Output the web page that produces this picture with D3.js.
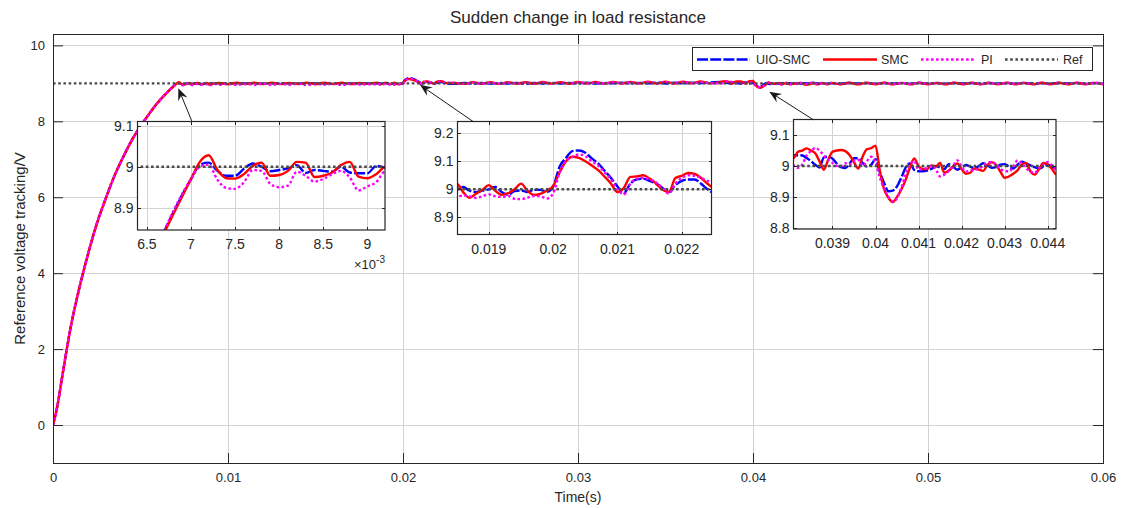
<!DOCTYPE html>
<html>
<head>
<meta charset="utf-8">
<script src="https://cdn.jsdelivr.net/npm/d3@7"></script>
<style>
  body { margin: 0; background: #fff; }
  text { font-family: "Liberation Sans", Arial, Helvetica, sans-serif; fill: #262626; }
</style>
</head>
<body>
<svg id="chart" width="1122" height="508"></svg>
<script>
// ---------------- data (time in ms, voltage in V) ----------------
const seriesNames = ["UIO-SMC", "SMC", "PI", "Ref"];
const xTicks = [0, 0.01, 0.02, 0.03, 0.04, 0.05, 0.06];
const xTickLabels = ["0", "0.01", "0.02", "0.03", "0.04", "0.05", "0.06"];
const yTicks = [0, 2, 4, 6, 8, 10];
const yTickLabels = ["0", "2", "4", "6", "8", "10"];

// start-up ramp shared by the three controllers
const rampT = [0, 0.25, 0.5, 0.75, 1, 1.5, 2, 2.5, 3, 3.5, 4, 4.5, 5, 5.5, 6, 6.5];
const rampV = [0, 0.5, 1.2, 1.9, 2.55, 3.6, 4.5, 5.3, 5.95, 6.55, 7.05, 7.5, 7.87, 8.2, 8.5, 8.75];

// window 1: end of start-up, 7.0 .. 9.2 ms every 0.1 ms
const uioZoom1 = [8.970, 9.005, 9.010, 8.990, 8.978, 8.978, 8.995, 9.008, 9.000, 8.989, 8.992, 8.996, 9.004, 8.985, 8.992, 8.990, 8.988, 9.000, 8.986, 8.984, 8.984, 9.002, 8.998];
const smcZoom1 = [8.970, 9.012, 9.028, 8.992, 8.972, 8.971, 8.982, 9.002, 9.010, 8.978, 8.980, 8.990, 9.012, 9.010, 8.975, 8.978, 8.986, 9.004, 9.012, 8.976, 8.972, 8.982, 9.000];
const piZoom1  = [8.970, 9.000, 9.005, 8.968, 8.948, 8.946, 8.962, 8.992, 8.990, 8.958, 8.950, 8.954, 8.988, 8.978, 8.964, 8.970, 8.982, 8.990, 8.974, 8.942, 8.952, 8.962, 8.988];

// steady state 9.5 .. 18.0 ms every 0.5 ms
const uioGapA = [9.004, 8.992, 9.006, 8.995, 9.003, 8.994, 9.007, 8.996, 9.002, 8.993, 9.005, 8.997, 9.004, 8.992, 9.006, 8.995, 9.003, 8.996];
const smcGapA = [9.010, 8.978, 9.015, 8.982, 9.014, 8.980, 9.016, 8.979, 9.013, 8.984, 9.017, 8.978, 9.014, 8.982, 9.018, 8.980, 9.012, 8.985];
const piGapA  = [8.962, 8.990, 8.958, 8.985, 8.965, 8.992, 8.960, 8.986, 8.963, 8.990, 8.958, 8.984, 8.966, 8.990, 8.960, 8.985, 8.968, 8.975];

// window 2: load step at 20 ms, 18.5 .. 22.5 ms every 0.1 ms
const uioZoom2 = [9.000, 9.008, 8.995, 8.990, 8.995, 9.000, 9.008, 8.990, 8.980, 8.994,
                  8.996, 8.990, 8.998, 8.998, 8.990, 9.010, 9.080, 9.112, 9.136, 9.138,
                  9.130, 9.110, 9.092, 9.066, 9.040, 9.010, 8.986, 9.020, 9.035, 9.038,
                  9.030, 9.020, 9.005, 8.990, 9.015, 9.030, 9.035, 9.035, 9.020, 9.000, 8.988];
const smcZoom2 = [9.020, 8.990, 8.970, 8.984, 8.998, 9.015, 8.995, 8.980, 8.986, 9.000,
                  9.020, 8.995, 8.980, 8.984, 8.995, 9.012, 9.060, 9.100, 9.116, 9.112,
                  9.100, 9.085, 9.068, 9.045, 9.020, 8.990, 9.005, 9.044, 9.046, 9.050,
                  9.038, 9.020, 8.998, 8.990, 9.040, 9.048, 9.058, 9.055, 9.040, 9.020, 9.005];
const piZoom2  = [8.973, 8.978, 8.975, 8.969, 8.975, 8.982, 8.975, 8.973, 8.976, 8.966,
                  8.965, 8.970, 8.976, 8.975, 8.967, 8.985, 9.060, 9.100, 9.115, 9.124,
                  9.118, 9.100, 9.084, 9.060, 9.035, 9.000, 8.982, 9.020, 9.038, 9.040,
                  9.036, 9.024, 9.005, 8.985, 9.020, 9.040, 9.050, 9.048, 9.040, 9.030, 9.020];

// steady state 23.0 .. 37.5 ms every 0.5 ms
const uioGapB = [8.990, 9.012, 8.996, 9.010, 8.994, 9.008, 8.996, 9.012, 8.993, 9.010,
                 8.997, 9.014, 8.995, 9.011, 8.998, 9.015, 8.996, 9.012, 8.999, 9.016,
                 8.997, 9.013, 9.000, 9.018, 8.998, 9.015, 9.002, 9.020, 9.000, 9.022];
const smcGapB = [9.010, 8.985, 9.030, 8.990, 9.028, 8.985, 9.032, 8.990, 9.030, 8.988,
                 9.034, 8.992, 9.030, 8.990, 9.036, 8.995, 9.034, 8.992, 9.038, 8.996,
                 9.040, 8.994, 9.042, 8.998, 9.044, 8.996, 9.046, 9.000, 9.048, 9.000];
const piGapB  = [9.012, 8.990, 9.020, 8.995, 9.018, 8.992, 9.022, 8.996, 9.020, 8.994,
                 9.024, 8.998, 9.020, 8.996, 9.026, 9.000, 9.022, 8.998, 9.028, 9.000,
                 9.030, 8.998, 9.030, 9.002, 9.034, 9.000, 9.036, 9.004, 9.030, 9.006];

// window 3: load step at 40 ms, 38.1 .. 44.2 ms every 0.1 ms
const uioZoom3 = [9.035, 9.035, 9.034, 9.026, 9.016, 9.004, 8.995, 9.028, 9.030, 9.024,
                  9.008, 8.996, 8.993, 9.008, 9.025, 9.025, 9.010, 8.998, 9.004, 9.022,
                  8.980, 8.945, 8.918, 8.920, 8.934, 8.962, 8.995, 9.008, 8.987, 8.983,
                  8.983, 8.985, 8.990, 9.000, 8.995, 8.990, 9.006, 8.998, 8.988, 8.995,
                  9.003, 8.998, 8.992, 9.000, 9.009, 9.002, 8.994, 8.996, 9.004, 9.006,
                  8.998, 8.992, 9.004, 9.014, 9.008, 9.002, 8.996, 8.992, 8.998, 9.004, 8.998, 8.992];
const smcZoom3 = [9.026, 9.046, 9.050, 9.057, 9.050, 9.041, 9.015, 8.988, 9.020, 9.046,
                  9.050, 9.052, 9.048, 9.035, 9.012, 8.992, 9.030, 9.054, 9.058, 9.066,
                  8.985, 8.925, 8.897, 8.883, 8.900, 8.924, 8.955, 8.995, 9.024, 9.000,
                  8.990, 8.990, 9.002, 8.998, 9.010, 8.978, 8.985, 8.997, 9.008, 8.990,
                  8.975, 8.978, 8.992, 8.988, 8.984, 9.003, 9.012, 9.004, 8.982, 8.962,
                  8.966, 8.975, 8.986, 9.005, 9.010, 8.982, 8.972, 8.990, 9.010, 9.005, 8.990, 8.973];
const piZoom3  = [9.002, 8.994, 9.005, 9.034, 9.048, 9.058, 9.050, 9.034, 9.020, 9.010,
                  9.000, 9.000, 9.009, 9.004, 9.016, 9.020, 9.000, 9.016, 9.030, 9.010,
                  8.963, 8.925, 8.900, 8.885, 8.895, 8.930, 8.972, 9.004, 9.016, 8.988,
                  8.990, 8.993, 9.000, 8.990, 8.966, 8.972, 8.983, 9.000, 9.018, 8.998,
                  8.982, 8.985, 8.988, 8.991, 9.000, 9.010, 9.013, 9.004, 8.990, 8.985,
                  8.982, 8.998, 9.018, 9.008, 8.993, 8.982, 8.978, 8.994, 9.005, 9.013, 9.002, 8.987];

// steady state 44.5 .. 60.0 ms every 0.5 ms
const uioGapC = [9.004, 8.994, 9.008, 8.995, 9.006, 8.993, 9.007, 8.996, 9.005, 8.994,
                 9.008, 8.995, 9.006, 8.993, 9.007, 8.996, 9.005, 8.994, 9.008, 8.995,
                 9.006, 8.993, 9.007, 8.996, 9.005, 8.994, 9.008, 8.995, 9.006, 8.993, 9.007, 8.996];
const smcGapC = [9.012, 8.975, 9.015, 8.972, 9.014, 8.976, 9.016, 8.974, 9.012, 8.973,
                 9.015, 8.976, 9.013, 8.972, 9.016, 8.975, 9.014, 8.973, 9.012, 8.976,
                 9.015, 8.974, 9.013, 8.972, 9.016, 8.975, 9.014, 8.973, 9.015, 8.976, 9.012, 8.974];
const piGapC  = [9.015, 8.984, 9.018, 8.980, 9.016, 8.985, 9.020, 8.982, 9.015, 8.980,
                 9.018, 8.985, 9.016, 8.982, 9.020, 8.984, 9.015, 8.980, 9.018, 8.985,
                 9.016, 8.982, 9.020, 8.984, 9.015, 8.980, 9.018, 8.985, 9.016, 8.982, 9.020, 8.984];

// reference voltage
const refT = [0, 60];
const refV = [9, 9];

// zoom window tick labels
const inset1XTicks = [6.5, 7, 7.5, 8, 8.5, 9];          // ×10^-3 s
const inset1YTicks = [8.9, 9, 9.1];
const inset2XTicks = [0.019, 0.02, 0.021, 0.022];
const inset2YTicks = [8.9, 9, 9.1, 9.2];
const inset3XTicks = [0.039, 0.04, 0.041, 0.042, 0.043, 0.044];
const inset3YTicks = [8.8, 8.9, 9, 9.1];

// ---------------- assemble series ----------------
const zoom1T = d3.range(70, 93).map(i => i / 10);
const zoom2T = d3.range(185, 226).map(i => i / 10);
const zoom3T = d3.range(381, 443).map(i => i / 10);
const gapAT = d3.range(19, 37).map(i => i / 2);
const gapBT = d3.range(46, 76).map(i => i / 2);
const gapCT = d3.range(89, 121).map(i => i / 2);

function assemble(parts) {
  const pts = rampT.map((t, i) => [t / 1000, rampV[i]]);
  const times = [zoom1T, gapAT, zoom2T, gapBT, zoom3T, gapCT];
  parts.forEach((vals, k) => vals.forEach((v, i) => pts.push([times[k][i] / 1000, v])));
  return pts;
}

const series = [
  { name: seriesNames[0], color: "#0000ff", dash: "11,2.2", width: 2.4,
    data: assemble([uioZoom1, uioGapA, uioZoom2, uioGapB, uioZoom3, uioGapC]) },
  { name: seriesNames[1], color: "#ff0000", dash: null, width: 2.4,
    data: assemble([smcZoom1, smcGapA, smcZoom2, smcGapB, smcZoom3, smcGapC]) },
  { name: seriesNames[2], color: "#ff00ff", dash: "2.6,2.4", width: 2.4,
    data: assemble([piZoom1, piGapA, piZoom2, piGapB, piZoom3, piGapC]) },
  { name: seriesNames[3], color: "#4a4a4a", dash: "2.6,2.6", width: 2.4,
    data: refT.map((t, i) => [t / 1000, refV[i]]) }
];

// ---------------- layout ----------------
const svg = d3.select("#chart");
const M = { left: 53, right: 1103, top: 34, bottom: 463 };
const x = d3.scaleLinear().domain([0, 0.06]).range([M.left, M.right]);
const y = d3.scaleLinear().domain([-1, 10.3]).range([M.bottom, M.top]);
const gridColor = "#d2d2d2";
const axisColor = "#262626";

svg.append("rect").attr("width", 1122).attr("height", 508).attr("fill", "#fff");

// grid
const grid = svg.append("g").attr("shape-rendering", "crispEdges");
grid.selectAll(".gx").data(xTicks).join("line")
  .attr("x1", d => Math.round(x(d)) + 0.5).attr("x2", d => Math.round(x(d)) + 0.5)
  .attr("y1", M.top).attr("y2", M.bottom).attr("stroke", gridColor);
grid.selectAll(".gy").data(yTicks).join("line")
  .attr("y1", d => Math.round(y(d)) + 0.5).attr("y2", d => Math.round(y(d)) + 0.5)
  .attr("x1", M.left).attr("x2", M.right).attr("stroke", gridColor);

// axes with inward ticks
function styleAxis(g) {
  g.select(".domain").remove();
  g.selectAll(".tick line").attr("stroke", axisColor);
  g.selectAll("text").attr("font-size", 13).attr("fill", axisColor)
    .attr("font-family", '"Liberation Sans", Arial, sans-serif');
}
svg.append("g").attr("transform", `translate(0,${M.bottom})`)
  .call(d3.axisBottom(x).tickValues(xTicks).tickSize(-10).tickPadding(10)
    .tickFormat((d, i) => xTickLabels[i])).call(styleAxis);
svg.append("g").attr("transform", `translate(0,${M.top})`)
  .call(d3.axisTop(x).tickValues(xTicks).tickSize(-10).tickFormat(""))
  .call(styleAxis);
svg.append("g").attr("transform", `translate(${M.left},0)`)
  .call(d3.axisLeft(y).tickValues(yTicks).tickSize(-10).tickPadding(8)
    .tickFormat((d, i) => yTickLabels[i])).call(styleAxis);
svg.append("g").attr("transform", `translate(${M.right},0)`)
  .call(d3.axisRight(y).tickValues(yTicks).tickSize(-10).tickFormat(""))
  .call(styleAxis);

// clip for main plot
const defs = svg.append("defs");
defs.append("clipPath").attr("id", "clip-main").append("rect")
  .attr("x", M.left).attr("y", M.top).attr("width", M.right - M.left).attr("height", M.bottom - M.top);

function drawSeries(g, sx, sy, clipId) {
  const line = d3.line().x(d => sx(d[0])).y(d => sy(d[1])).curve(d3.curveMonotoneX);
  const lg = g.append("g").attr("clip-path", `url(#${clipId})`);
  series.forEach(s => {
    lg.append("path").datum(s.data)
      .attr("d", line)
      .attr("fill", "none")
      .attr("stroke", s.color)
      .attr("stroke-width", s.width)
      .attr("stroke-dasharray", s.dash)
      .attr("stroke-linejoin", "round");
  });
}
drawSeries(svg, x, y, "clip-main");

// axes box
svg.append("rect").attr("x", M.left + 0.5).attr("y", M.top + 0.5)
  .attr("width", M.right - M.left).attr("height", M.bottom - M.top)
  .attr("fill", "none").attr("stroke", axisColor).attr("stroke-width", 1)
  .attr("shape-rendering", "crispEdges");

// titles
svg.append("text").attr("x", (M.left + M.right) / 2).attr("y", 23)
  .attr("text-anchor", "middle").attr("font-size", 17).attr("fill", "#000")
  .text("Sudden change in load resistance");
svg.append("text").attr("x", (M.left + M.right) / 2).attr("y", 502)
  .attr("text-anchor", "middle").attr("font-size", 14).attr("fill", "#000")
  .text("Time(s)");
svg.append("text").attr("transform", `translate(25,${(M.top + M.bottom) / 2}) rotate(-90)`)
  .attr("text-anchor", "middle").attr("font-size", 15).attr("fill", "#000")
  .text("Reference voltage tracking/V");

// ---------------- zoom windows ----------------
const insets = [
  { id: "z1", box: [137.5, 121.5, 385, 230], xd: [0.006393, 0.0092], yd: [8.8456, 9.1105],
    xt: inset1XTicks.map(v => v / 1000), xl: inset1XTicks.map(String), yt: inset1YTicks, exp: true },
  { id: "z2", box: [457.5, 121.5, 711.5, 234.5], xd: [0.018513, 0.022462], yd: [8.839, 9.2414],
    xt: inset2XTicks, xl: inset2XTicks.map(String), yt: inset2YTicks, exp: false },
  { id: "z3", box: [793.5, 119.5, 1056, 229], xd: [0.038095, 0.044193], yd: [8.7958, 9.1506],
    xt: inset3XTicks, xl: inset3XTicks.map(String), yt: inset3YTicks, exp: false }
];

insets.forEach(cfg => {
  const [x0, y0, x1, y1] = cfg.box;
  const sx = d3.scaleLinear().domain(cfg.xd).range([x0, x1]);
  const sy = d3.scaleLinear().domain(cfg.yd).range([y1, y0]);
  const g = svg.append("g");
  g.append("rect").attr("x", x0).attr("y", y0).attr("width", x1 - x0).attr("height", y1 - y0)
    .attr("fill", "#fff");
  defs.append("clipPath").attr("id", "clip-" + cfg.id).append("rect")
    .attr("x", x0).attr("y", y0).attr("width", x1 - x0).attr("height", y1 - y0);
  const gg = g.append("g").attr("shape-rendering", "crispEdges");
  gg.selectAll(".gx").data(cfg.xt).join("line")
    .attr("x1", d => Math.round(sx(d)) + 0.5).attr("x2", d => Math.round(sx(d)) + 0.5)
    .attr("y1", y0).attr("y2", y1).attr("stroke", gridColor);
  gg.selectAll(".gy").data(cfg.yt).join("line")
    .attr("y1", d => Math.round(sy(d)) + 0.5).attr("y2", d => Math.round(sy(d)) + 0.5)
    .attr("x1", x0).attr("x2", x1).attr("stroke", gridColor);
  drawSeries(g, sx, sy, "clip-" + cfg.id);
  // inward ticks
  const tk = g.append("g").attr("stroke", axisColor).attr("shape-rendering", "crispEdges");
  cfg.xt.forEach(d => {
    const px = Math.round(sx(d)) + 0.5;
    tk.append("line").attr("x1", px).attr("x2", px).attr("y1", y1).attr("y2", y1 - 3);
    tk.append("line").attr("x1", px).attr("x2", px).attr("y1", y0).attr("y2", y0 + 3);
  });
  cfg.yt.forEach(d => {
    const py = Math.round(sy(d)) + 0.5;
    tk.append("line").attr("y1", py).attr("y2", py).attr("x1", x0).attr("x2", x0 + 3);
    tk.append("line").attr("y1", py).attr("y2", py).attr("x1", x1).attr("x2", x1 - 3);
  });
  g.append("rect").attr("x", x0).attr("y", y0).attr("width", x1 - x0).attr("height", y1 - y0)
    .attr("fill", "none").attr("stroke", "#262626").attr("stroke-width", 1.2);
  g.selectAll(".xl").data(cfg.xt).join("text")
    .attr("x", d => sx(d)).attr("y", y1 + 19)
    .attr("text-anchor", "middle").attr("font-size", 14).attr("fill", axisColor)
    .text((d, i) => cfg.xl[i]);
  g.selectAll(".yl").data(cfg.yt).join("text")
    .attr("x", x0 - 4).attr("y", d => sy(d)).attr("dy", "0.35em")
    .attr("text-anchor", "end").attr("font-size", 14).attr("fill", axisColor)
    .text(d => String(d));
  if (cfg.exp) {
    const t = g.append("text").attr("x", x1).attr("y", y1 + 39)
      .attr("text-anchor", "end").attr("font-size", 13).attr("fill", axisColor);
    t.append("tspan").text("\u00d710");
    t.append("tspan").attr("dy", -6).attr("font-size", 10).text("-3");
  }
});

// ---------------- arrows pointing at the magnified regions ----------------
const arrows = [
  { tip: [0.00716, 8.87], tail: [0.00793, 8.01] },
  { tip: [0.02097, 8.96], tail: [0.02402, 7.99] },
  { tip: [0.04093, 8.78], tail: [0.04345, 8.04] }
];
const ag = svg.append("g");
arrows.forEach(a => {
  const tx = x(a.tip[0]), ty = y(a.tip[1]);
  const sx0 = x(a.tail[0]), sy0 = y(a.tail[1]);
  const dx = tx - sx0, dy = ty - sy0, len = Math.hypot(dx, dy);
  const ux = dx / len, uy = dy / len, nx = -uy, ny = ux;
  const L = 12, w = 5;
  ag.append("line").attr("x1", sx0).attr("y1", sy0)
    .attr("x2", tx - ux * L * 0.6).attr("y2", ty - uy * L * 0.6)
    .attr("stroke", "#1a1a1a").attr("stroke-width", 1);
  const p = [
    [tx, ty],
    [tx - ux * L + nx * w, ty - uy * L + ny * w],
    [tx - ux * L * 0.65, ty - uy * L * 0.65],
    [tx - ux * L - nx * w, ty - uy * L - ny * w]
  ];
  ag.append("path").attr("d", "M" + p.map(q => q.join(",")).join("L") + "Z").attr("fill", "#1a1a1a");
});

// ---------------- legend ----------------
const lg = svg.append("g");
lg.append("rect").attr("x", 692.5).attr("y", 47.5).attr("width", 400).attr("height", 23)
  .attr("fill", "#fff").attr("stroke", "#262626").attr("stroke-width", 1);
const legendPos = [[697, 750, 756], [823, 877, 881], [921, 976, 981], [1005, 1058, 1063]];
series.forEach((s, i) => {
  const [a, b, tx] = legendPos[i];
  lg.append("line").attr("x1", a).attr("x2", b).attr("y1", 59.5).attr("y2", 59.5)
    .attr("stroke", s.color).attr("stroke-width", s.width).attr("stroke-dasharray", s.dash);
  lg.append("text").attr("x", tx).attr("y", 59.5).attr("dy", "0.35em")
    .attr("font-size", 12.5).attr("fill", "#000").text(s.name);
});
</script>
</body>
</html>
